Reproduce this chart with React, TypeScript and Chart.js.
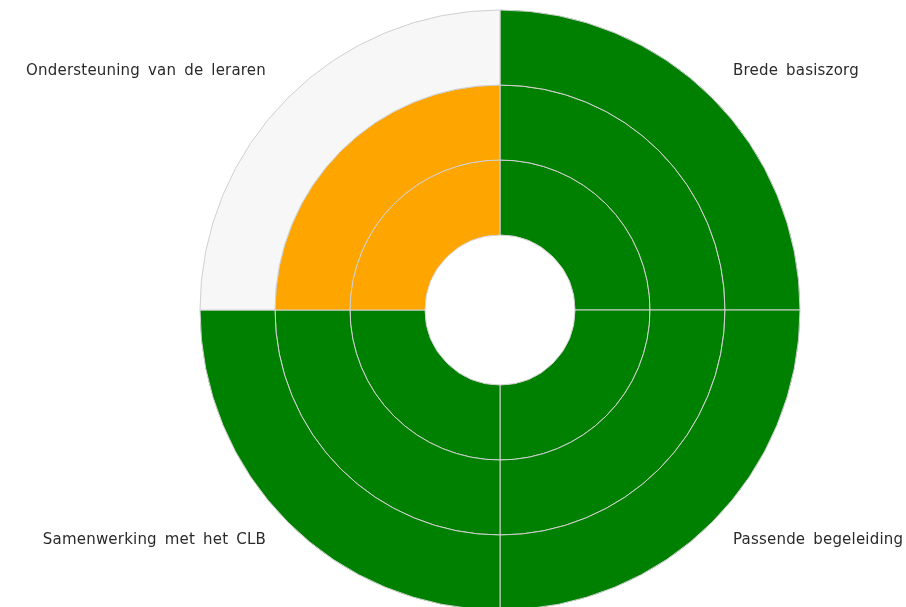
import React, { useEffect, useRef } from "react";
import { Chart, registerables } from "chart.js";

Chart.register(...registerables);

const categories = [
  "Brede basiszorg",
  "Passende begeleiding",
  "Samenwerking met het CLB",
  "Ondersteuning van de leraren",
];
const ringValues = [1, 1, 1, 1];
const GREEN = "#008000";
const ORANGE = "#ffa500";
const EMPTY = "#f7f7f7";
// outermost ring first
const ringColors = [
  [GREEN, GREEN, GREEN, EMPTY],
  [GREEN, GREEN, GREEN, ORANGE],
  [GREEN, GREEN, GREEN, ORANGE],
];

const labelPlugin = {
  id: "cornerLabels",
  afterDraw(chart: any) {
    const { ctx } = chart;
    const cx = 500;
    ctx.save();
    ctx.font = "15px 'DejaVu Sans'";
    try {
      (ctx as any).wordSpacing = "3px";
      (ctx as any).letterSpacing = "0.2px";
    } catch (e) {}
    ctx.fillStyle = "#2a2a2a";
    ctx.textBaseline = "middle";
    const pos = [
      { t: categories[0], x: cx + 233, y: 71, a: "left" },
      { t: categories[1], x: cx + 233, y: 540, a: "left" },
      { t: categories[2], x: cx - 234, y: 540, a: "right" },
      { t: categories[3], x: cx - 234, y: 71, a: "right" },
    ];
    for (const p of pos) {
      ctx.textAlign = p.a;
      ctx.fillText(p.t, p.x, p.y);
    }
    ctx.restore();
  },
};

export default function App() {
  const ref = useRef<HTMLCanvasElement>(null);
  useEffect(() => {
    const chart = new Chart(ref.current!, {
      type: "doughnut",
      data: {
        labels: categories,
        datasets: ringColors.map((c) => ({
          data: ringValues,
          backgroundColor: c,
          borderColor: "#d0d0d0",
          borderWidth: 1,
        })),
      },
      options: {
        animation: false,
        responsive: false,
        radius: 300,
        cutout: "25%",
        layout: { padding: { left: 94, top: 13, right: 0, bottom: 0 } },
        plugins: { legend: { display: false }, tooltip: { enabled: false } },
      } as any,
      plugins: [labelPlugin],
    });
    return () => chart.destroy();
  }, []);
  return (
    <div style={{ position: "absolute", left: 0, top: 0, width: 906, height: 607, background: "#fff" }}>
      <canvas ref={ref} width={906} height={607} style={{ width: 906, height: 607 }} />
    </div>
  );
}
